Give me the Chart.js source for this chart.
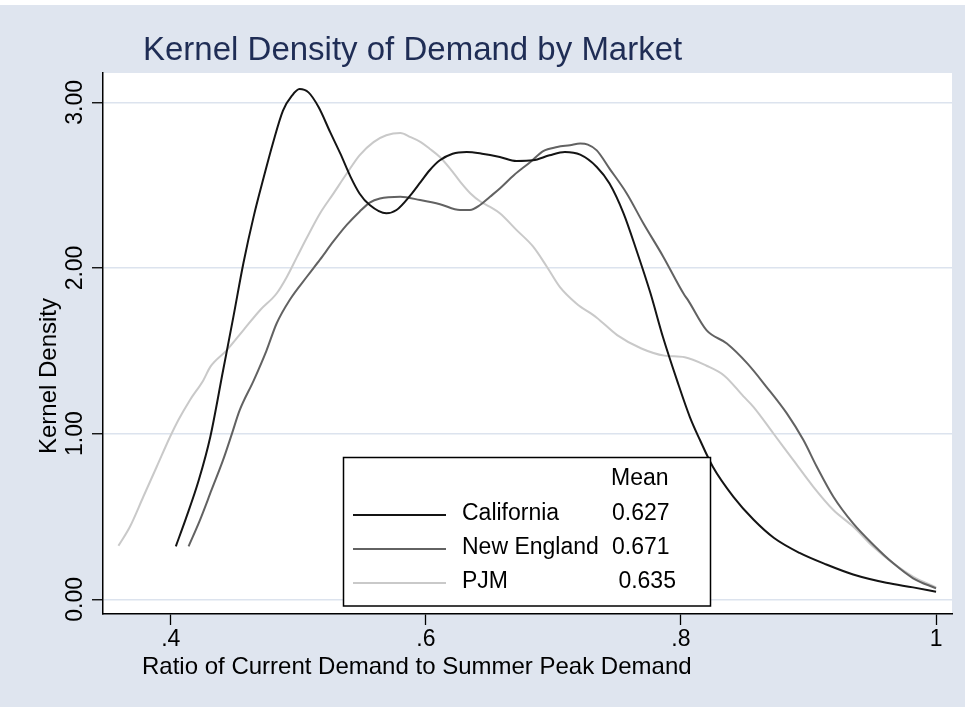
<!DOCTYPE html>
<html>
<head>
<meta charset="utf-8">
<script src="https://cdn.jsdelivr.net/npm/chart.js@4.4.1/dist/chart.umd.min.js"></script>
<style>
html,body{margin:0;padding:0;background:#dfe5ef;}
canvas{display:block;}
</style>
</head>
<body>
<canvas id="c" width="965" height="707"></canvas>
<script>
// ---------- text ----------
const chartTitle = 'Kernel Density of Demand by Market';
const xAxisTitle = 'Ratio of Current Demand to Summer Peak Demand';
const yAxisTitle = 'Kernel Density';
const seriesNames = ['California', 'New England', 'PJM'];
const meanHeader = 'Mean';
const seriesMeans = ['0.627', '0.671', ' 0.635'];

// ---------- ticks ----------
const xTickValues = [0.4, 0.6, 0.8, 1];
const xTickLabels = ['.4', '.6', '.8', '1'];
const yTickValues = [0, 1, 2, 3];
const yTickLabels = ['0.00', '1.00', '2.00', '3.00'];

// ---------- series ----------
const caX = [0.404,0.412,0.422,0.431,0.441,0.449,0.457,0.465,0.473,0.480,0.488,0.495,0.501,0.508,0.516,0.525,0.533,0.541,0.548,0.556,0.569,0.577,
             0.588,0.596,0.603,0.611,0.621,0.632,0.644,0.658,0.671,0.684,0.697,0.709,0.721,0.734,0.744,0.755,0.765,0.776,0.786,0.797,0.807,0.815,
             0.825,0.841,0.857,0.873,0.893,0.914,0.935,0.961,0.982,1.0];
const caY = [0.32,0.49,0.72,0.98,1.38,1.70,2.03,2.31,2.55,2.75,2.95,3.04,3.08,3.06,2.97,2.82,2.69,2.55,2.45,2.38,2.33,2.35,
             2.44,2.52,2.59,2.65,2.69,2.70,2.69,2.67,2.646,2.65,2.68,2.70,2.684,2.61,2.51,2.33,2.11,1.85,1.58,1.32,1.10,0.96,
             0.80,0.62,0.48,0.37,0.28,0.21,0.15,0.10,0.072,0.046];

const neX = [0.414,0.423,0.432,0.441,0.448,0.454,0.465,0.475,0.483,0.4935,0.507,0.517,0.5275,0.538,0.548,0.556,0.564,0.580,
             0.5955,0.6111,0.6268,0.6346,0.6425,0.6503,0.658,0.669,0.682,0.692,0.703,0.713,0.721,0.727,0.734,0.744,0.7575,0.7705,0.786,0.802,
             0.806,0.820,0.836,0.852,0.867,0.883,0.896,0.9065,0.9195,0.935,0.951,0.9665,0.982,1.0];
const neY = [0.32,0.48,0.66,0.84,1.00,1.14,1.32,1.50,1.665,1.81,1.95,2.05,2.16,2.26,2.34,2.395,2.42,2.43,
             2.41,2.385,2.35,2.35,2.38,2.43,2.48,2.56,2.64,2.706,2.73,2.741,2.751,2.745,2.71,2.60,2.45,2.27,2.07,1.846,
             1.80,1.625,1.544,1.424,1.283,1.122,0.961,0.800,0.619,0.458,0.328,0.217,0.127,0.066];

const pjmX = [0.359,0.368,0.3785,0.389,0.3995,0.406,0.415,0.4256,0.431,0.444,0.457,0.470,0.483,0.491,0.499,0.507,0.517,0.5275,0.538,0.548,0.559,0.569,0.580,
              0.588,0.596,0.603,0.611,0.619,0.627,0.635,0.643,0.650,0.658,0.671,0.684,0.695,0.705,0.718,0.734,0.750,0.769,0.787,0.803,0.820,0.834,0.849,
              0.8568,0.8725,0.8881,0.9038,0.9195,0.9352,0.9508,0.9665,0.9822,1.0];
const pjmY = [0.323,0.438,0.619,0.800,0.981,1.082,1.202,1.323,1.403,1.504,1.625,1.745,1.846,1.946,2.067,2.187,2.329,2.449,2.570,2.680,2.760,2.801,2.815,
              2.79,2.76,2.72,2.67,2.60,2.52,2.45,2.40,2.37,2.33,2.23,2.13,2.006,1.886,1.786,1.70,1.595,1.514,1.471,1.461,1.41,1.35,1.225,
              1.162,1.001,0.840,0.679,0.539,0.438,0.317,0.217,0.136,0.072];

const seriesX = [caX, neX, pjmX];
const seriesY = [caY, neY, pjmY];
const seriesColors = ['#141414', '#626262', '#c9c9c9'];

// ---------- styling ----------
const FONT = "'Liberation Sans', Arial, Helvetica, sans-serif";
const BG = '#dfe5ef';
const GRID = '#dce3ee';

const datasets = seriesNames.map((name, i) => ({
  label: name,
  data: seriesX[i].map((x, j) => ({ x: x, y: seriesY[i][j] })),
  borderColor: seriesColors[i],
  backgroundColor: seriesColors[i],
  borderWidth: 2,
  pointRadius: 0,
  cubicInterpolationMode: 'monotone',
  fill: false
}));

const decorPlugin = {
  id: 'decor',
  beforeDraw(chart) {
    const { ctx, chartArea: a } = chart;
    ctx.save();
    ctx.fillStyle = BG;
    ctx.fillRect(0, 0, chart.width, chart.height);
    ctx.fillStyle = '#ffffff';
    ctx.fillRect(0, 0, chart.width, 5);
    ctx.fillRect(a.left, a.top, a.right - a.left, a.bottom - a.top);
    ctx.restore();
  },
  afterDraw(chart) {
    const { ctx } = chart;
    ctx.save();
    // Title
    ctx.fillStyle = '#1f2d55';
    ctx.font = '33px ' + FONT;
    ctx.textAlign = 'left';
    ctx.textBaseline = 'alphabetic';
    ctx.fillText(chartTitle, 143, 59.5);
    // X axis title
    ctx.fillStyle = '#000';
    ctx.font = '24px ' + FONT;
    ctx.fillText(xAxisTitle, 142, 674);
    // Y axis title
    ctx.save();
    ctx.translate(49, 376);
    ctx.rotate(-Math.PI / 2);
    ctx.textAlign = 'center';
    ctx.textBaseline = 'middle';
    ctx.fillText(yAxisTitle, 0, 0);
    ctx.restore();
    // Legend box
    const bx = 343.5, by = 457.5, bw = 367, bh = 148.5;
    ctx.fillStyle = '#fff';
    ctx.fillRect(bx, by, bw, bh);
    ctx.strokeStyle = '#000';
    ctx.lineWidth = 1.5;
    ctx.strokeRect(bx, by, bw, bh);
    ctx.font = '23px ' + FONT;
    ctx.textBaseline = 'middle';
    ctx.textAlign = 'left';
    ctx.fillStyle = '#000';
    ctx.fillText(meanHeader, 611, 479);
    const rowY = [515, 549, 583];
    seriesNames.forEach((name, i) => {
      ctx.strokeStyle = seriesColors[i];
      ctx.lineWidth = 2;
      ctx.beginPath();
      ctx.moveTo(353, rowY[i]);
      ctx.lineTo(446, rowY[i]);
      ctx.stroke();
      ctx.fillStyle = '#000';
      ctx.fillText(name, 462, rowY[i] - 1.5);
      ctx.fillText(seriesMeans[i], 612, rowY[i] - 1.5);
    });
    ctx.restore();
  }
};

new Chart(document.getElementById('c'), {
  type: 'line',
  data: { datasets: datasets },
  options: {
    responsive: false,
    animation: false,
    devicePixelRatio: 1,
    layout: { padding: { top: 73, right: 13, left: 0, bottom: 0 } },
    plugins: { legend: { display: false }, tooltip: { enabled: false }, title: { display: false } },
    scales: {
      x: {
        type: 'linear',
        min: 0.3469,
        max: 1.0125,
        afterBuildTicks: (s) => { s.ticks = xTickValues.map(v => ({ value: v })); },
        afterFit: (s) => { s.height = 93; },
        grid: { drawOnChartArea: false, drawTicks: true, tickLength: 11, tickColor: '#000', tickWidth: 1.3 },
        border: { display: true, color: '#000', width: 1.5 },
        ticks: {
          autoSkip: false, maxRotation: 0, minRotation: 0, padding: 1, color: '#000',
          font: { family: FONT, size: 23 },
          callback: (v) => xTickLabels[xTickValues.indexOf(v)]
        }
      },
      y: {
        type: 'linear',
        min: -0.0887,
        max: 3.177,
        afterBuildTicks: (s) => { s.ticks = yTickValues.map(v => ({ value: v })); },
        afterFit: (s) => { s.width = 103; },
        grid: { color: GRID, lineWidth: 1.5, drawTicks: true, tickLength: 11, tickColor: '#000', tickWidth: 1.3 },
        border: { display: true, color: '#000', width: 1.5 },
        ticks: {
          autoSkip: false, minRotation: 90, maxRotation: 90, crossAlign: 'center', padding: -6, color: '#000',
          font: { family: FONT, size: 23 },
          callback: (v) => yTickLabels[yTickValues.indexOf(v)]
        }
      }
    }
  },
  plugins: [decorPlugin]
});
</script>
</body>
</html>
